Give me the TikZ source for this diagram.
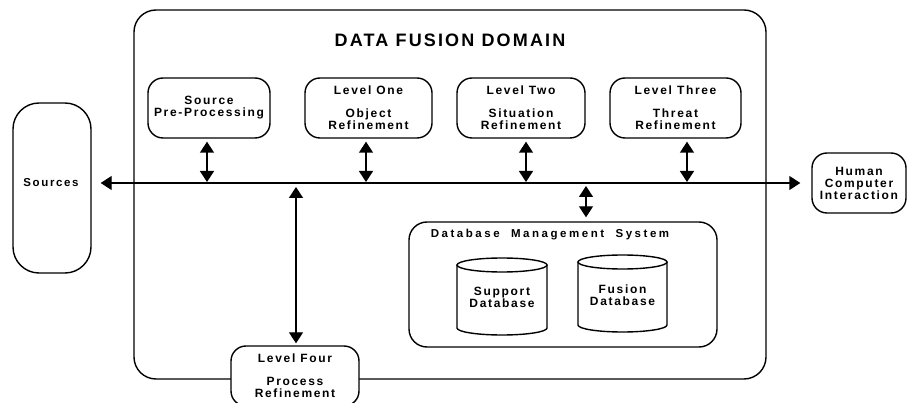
\documentclass[tikz,border=0pt]{standalone}
\usepackage{fontspec}
\setmainfont{Liberation Sans}
\newfontfamily\lblfont[LetterSpace=14]{Liberation Sans}
\newfontfamily\dbfont[LetterSpace=22]{Liberation Sans}
\newfontfamily\ttlfont[LetterSpace=12]{Liberation Sans}
\usetikzlibrary{arrows.meta}
\begin{document}
\begin{tikzpicture}[x=1pt,y=-1pt,
  line width=1.4pt,
  lbl/.style={font=\fontsize{12}{12}\selectfont\lblfont\bfseries, align=center, inner sep=0pt},
  procbox/.style={lbl, draw, rounded corners=15, fill=white, minimum height=60},
  dbl/.style={{Triangle[length=11pt,width=14pt]}-{Triangle[length=11pt,width=14pt]}},
  cyl/.style={draw, fill=white}
]
\useasboundingbox (0,0) rectangle (908,403);
\fill[white] (0,0) rectangle (908,403);

% domain frame and its title
\node (domain) [draw, rounded corners=22, minimum width=632, minimum height=369, inner sep=0pt] at (450,194.5) {};
\node (title) [font=\fontsize{18}{20}\selectfont\ttlfont\bfseries, inner sep=0pt] at (450,40) {DATA FUSION DOMAIN};

% outside actors
\node (sources) [draw, rounded corners=26, minimum width=78, minimum height=170, inner sep=0pt] at (52,188) {};
\node (srctxt) [lbl, font=\fontsize{11.5}{12}\selectfont\lblfont\bfseries] at (51,183) {Sources};
\node (hci) [procbox, minimum width=94] at (859,183) {Human\\Computer\\Interaction};

% processing levels
\node (pre) [procbox, minimum width=122] at (209,108) {Source\\Pre-Processing};
\node (l1) [procbox, minimum width=127] at (368.5,108) {Level One\\[11pt]Object\\Refinement};
\node (l2) [procbox, minimum width=128] at (521,108) {Level Two\\[11pt]Situation\\Refinement};
\node (l3) [procbox, minimum width=131] at (675.5,108) {Level Three\\[11pt]Threat\\Refinement};
\node (l4) [procbox, minimum width=128] at (295,376) {Level Four\\[11pt]Process\\Refinement};

% database management system
\node (dbms) [draw, rounded corners=18, minimum width=308, minimum height=125, inner sep=0pt] at (563,284.5) {};
\node (dbmstitle) [lbl, font=\fontsize{11.5}{12}\selectfont\dbfont\bfseries] at (550,235) {Database\ \ Management\ \ System};

% support database cylinder
\draw[cyl] (457,265) -- (457,328) arc[start angle=180, end angle=0, x radius=45, y radius=7] -- (547,265);
\draw (502,265) ellipse [x radius=45, y radius=7];
\node (support) [lbl] at (502,297) {Support\\Database};

% fusion database cylinder
\draw[cyl] (578,262) -- (578,325) arc[start angle=180, end angle=0, x radius=44.5, y radius=7] -- (667,262);
\draw (622.5,262) ellipse [x radius=44.5, y radius=7];
\node (fusion) [lbl] at (622.5,295.5) {Fusion\\Database};

% data bus
\coordinate (bus) at (450,183);
\draw[dbl] ([xshift=9pt]sources.east |- bus) -- ([xshift=-11pt]hci.west |- bus);

\coordinate (b0) at (207,183);
\coordinate (b1) at (366,183);
\coordinate (b2) at (526,183);
\coordinate (b3) at (687,183);
\coordinate (bd) at (586,183);
\coordinate (b4) at (296,183);

\draw[dbl, shorten <=3pt, shorten >=1pt] (b0 |- pre.south) -- (b0);
\draw[dbl, shorten <=3pt, shorten >=1pt] (b1 |- l1.south) -- (b1);
\draw[dbl, shorten <=3pt, shorten >=1pt] (b2 |- l2.south) -- (b2);
\draw[dbl, shorten <=3pt, shorten >=1pt] (b3 |- l3.south) -- (b3);
\draw[dbl, shorten <=3pt, shorten >=4pt] (bd) -- (bd |- dbms.north);
\draw[dbl, shorten <=4pt, shorten >=2pt] (b4) -- (b4 |- l4.north);
\end{tikzpicture}
\end{document}
